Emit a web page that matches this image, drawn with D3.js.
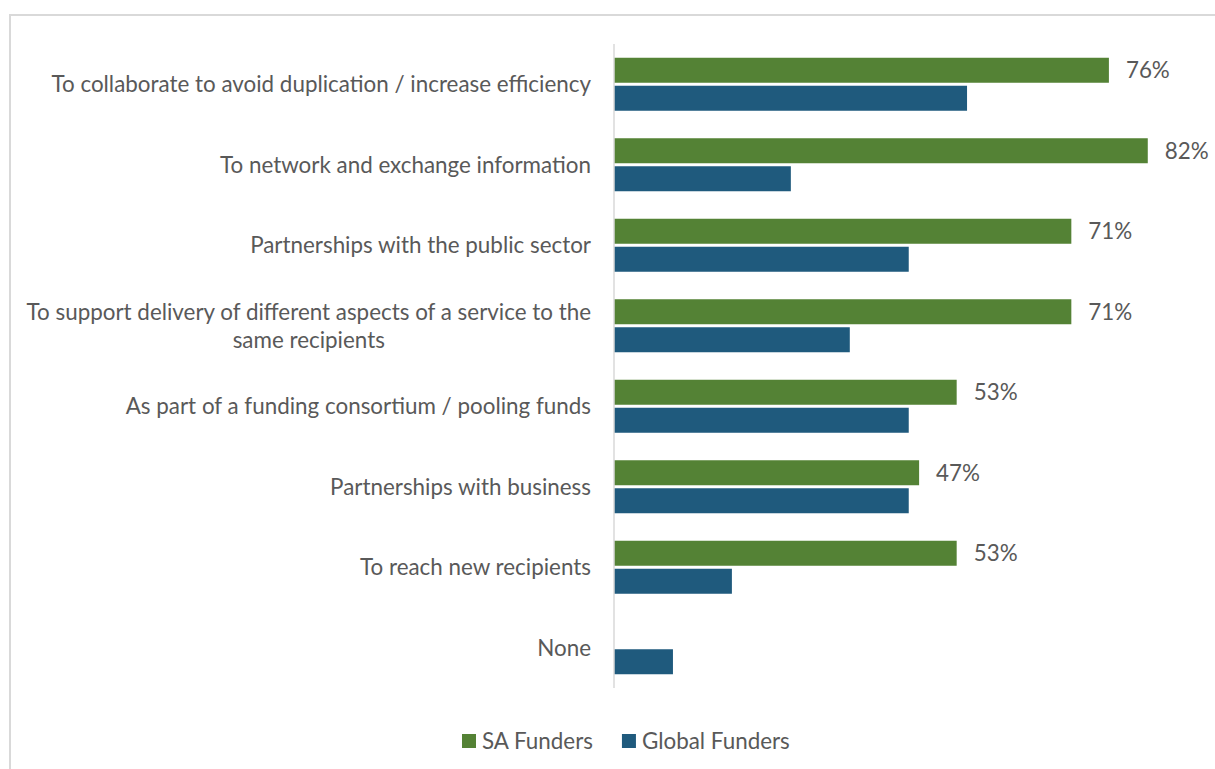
<!DOCTYPE html>
<html>
<head>
<meta charset="utf-8">
<script src="https://cdn.jsdelivr.net/npm/d3@7"></script>
<style>
  html, body { margin: 0; padding: 0; background: #ffffff; }
  svg { display: block; }
  text { font-family: Lato, "Open Sans", sans-serif; fill: #595959; }
</style>
</head>
<body>
<svg id="chart" width="1215" height="769"></svg>
<script>
// Reasons for collaborating, share of funders (%)
const categories = [
  "To collaborate to avoid duplication / increase efficiency",
  "To network and exchange information",
  "Partnerships with the public sector",
  "To support delivery of different aspects of a service to the same recipients",
  "As part of a funding consortium / pooling funds",
  "Partnerships with business",
  "To reach new recipients",
  "None"
];
// Wrapped lines for category labels
const categoryLines = [
  ["To collaborate to avoid duplication / increase efficiency"],
  ["To network and exchange information"],
  ["Partnerships with the public sector"],
  ["To support delivery of different aspects of a service to the", "same recipients"],
  ["As part of a funding consortium / pooling funds"],
  ["Partnerships with business"],
  ["To reach new recipients"],
  ["None"]
];
const seriesNames = ["SA Funders", "Global Funders"];
const saFunders     = [76.4, 82.4, 70.6, 70.6, 52.9, 47.1, 52.9, null];
const globalFunders = [54.5, 27.3, 45.5, 36.4, 45.5, 45.5, 18.2, 9.1];
const seriesColors  = ["#548235", "#1f5a7d"];

const svg = d3.select("#chart");

// Outer chart border
svg.append("rect")
  .attr("x", 10).attr("y", 15)
  .attr("width", 1400).attr("height", 900)
  .attr("fill", "none")
  .attr("stroke", "#d9d9d9")
  .attr("stroke-width", 2);

const plot = { left: 614, top: 44, width: 583, height: 644 };

const x = d3.scaleLinear().domain([0, 90]).range([plot.left, plot.left + plot.width]);
const y0 = d3.scaleBand().domain(categories).range([plot.top, plot.top + plot.height]).padding(0);
const inner = 53;
const y1 = d3.scaleBand().domain(seriesNames)
  .range([y0.bandwidth() / 2 - inner / 2, y0.bandwidth() / 2 + inner / 2])
  .paddingInner(2 - inner / 28).paddingOuter(0);

const rows = categories.map((c, i) => ({
  cat: c,
  lines: categoryLines[i],
  values: [
    { key: seriesNames[0], v: saFunders[i], color: seriesColors[0] },
    { key: seriesNames[1], v: globalFunders[i], color: seriesColors[1] }
  ]
}));

const fontSize = 22.4;

const groups = svg.append("g").selectAll("g.row")
  .data(rows).join("g")
  .attr("class", "row")
  .attr("transform", d => `translate(0,${y0(d.cat)})`);

groups.selectAll("rect.bar")
  .data(d => d.values.filter(v => v.v != null))
  .join("rect")
  .attr("class", "bar")
  .attr("x", x(0))
  .attr("y", d => y1(d.key))
  .attr("width", d => x(d.v) - x(0))
  .attr("height", y1.bandwidth())
  .attr("fill", d => d.color);

// Value labels on the SA series
groups.selectAll("text.val")
  .data(d => d.values.filter(v => v.key === seriesNames[0] && v.v != null))
  .join("text")
  .attr("class", "val")
  .attr("x", d => x(d.v) + 17)
  .attr("y", d => y1(d.key) + y1.bandwidth() / 2)
  .attr("dy", "0.35em")
  .attr("font-size", fontSize)
  .text(d => Math.round(d.v) + "%");

// Category labels, right-aligned block with centred lines
const labelRight = 591;
const lineH = 28;
groups.each(function(d) {
  const g = d3.select(this);
  const t = g.append("text")
    .attr("font-size", fontSize)
    .attr("text-anchor", "middle");
  const n = d.lines.length;
  const spans = d.lines.map((ln, k) => t.append("tspan")
    .attr("y", y0.bandwidth() / 2 + (k - (n - 1) / 2) * lineH)
    .attr("dy", "0.35em")
    .text(ln));
  const maxW = d3.max(spans, s => s.node().getComputedTextLength());
  spans.forEach(s => s.attr("x", labelRight - maxW / 2));
});

// Vertical category axis line
svg.append("line")
  .attr("x1", x(0)).attr("x2", x(0))
  .attr("y1", plot.top).attr("y2", plot.top + plot.height)
  .attr("stroke", "#d9d9d9").attr("stroke-width", 1.5);

// Legend
const legend = svg.append("g").attr("transform", "translate(462,741)");
let lx = 0;
seriesNames.forEach((name, i) => {
  const item = legend.append("g").attr("transform", `translate(${lx},0)`);
  item.append("rect").attr("x", 0).attr("y", -7).attr("width", 14).attr("height", 14)
    .attr("fill", seriesColors[i]);
  const txt = item.append("text").attr("x", 20).attr("dy", "0.35em")
    .attr("font-size", fontSize).text(name);
  lx += 20 + txt.node().getComputedTextLength() + 29;
});
</script>
</body>
</html>
